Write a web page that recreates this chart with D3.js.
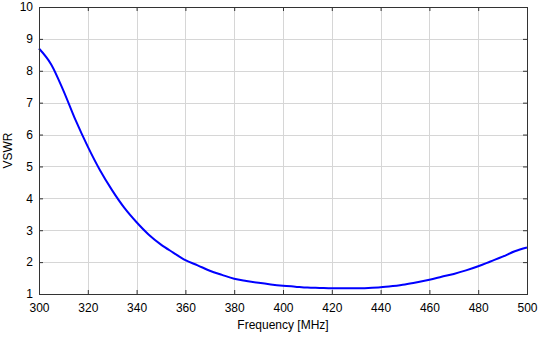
<!DOCTYPE html>
<html>
<head>
<meta charset="utf-8">
<script src="https://cdn.jsdelivr.net/npm/d3@7"></script>
<style>
  html, body { margin: 0; padding: 0; background: #fff; }
  svg { display: block; font-family: "Liberation Sans", Arial, sans-serif; }
</style>
</head>
<body>
<svg id="chart" width="540" height="340"></svg>
<script>
// Measured VSWR of the antenna versus frequency
const freqMHz = [300,305,310,315,320,325,330,335,340,345,350,355,360,365,370,375,380,385,390,395,
                 400,405,410,415,420,425,430,435,440,445,450,455,460,465,470,475,480,485,490,495,500];
const vswr    = [8.70,8.20,7.38,6.45,5.62,4.88,4.25,3.70,3.25,2.86,2.55,2.30,2.06,1.90,1.73,1.60,1.48,1.41,1.35,1.30,
                 1.26,1.23,1.20,1.19,1.18,1.18,1.18,1.19,1.21,1.25,1.30,1.37,1.45,1.54,1.63,1.74,1.87,2.02,2.17,2.34,2.46];
const xTicks = [300,320,340,360,380,400,420,440,460,480,500];
const yTicks = [1,2,3,4,5,6,7,8,9,10];

const svg = d3.select("#chart");
const m = { left: 39, right: 527, top: 7, bottom: 294 };

const x = d3.scaleLinear().domain([300, 500]).range([m.left, m.right]);
const y = d3.scaleLinear().domain([1, 10]).range([m.bottom, m.top]);

// grid
const grid = svg.append("g").attr("stroke", "#d6d6d6").attr("stroke-width", 1);
xTicks.slice(1, -1).forEach(t => {
  grid.append("line").attr("x1", Math.round(x(t)) + 0.5).attr("x2", Math.round(x(t)) + 0.5)
      .attr("y1", m.top).attr("y2", m.bottom);
});
yTicks.slice(1, -1).forEach(t => {
  grid.append("line").attr("y1", Math.round(y(t)) + 0.5).attr("y2", Math.round(y(t)) + 0.5)
      .attr("x1", m.left).attr("x2", m.right);
});

// axes with inward ticks
const tickStyle = g => {
  g.select(".domain").remove();
  g.selectAll(".tick line").attr("stroke", "#333");
  g.selectAll(".tick text").attr("fill", "#000").attr("font-size", 12)
    .attr("font-family", "'Liberation Sans', Arial, sans-serif");
};
svg.append("g").attr("transform", `translate(0,${m.bottom})`)
  .call(d3.axisBottom(x).tickValues(xTicks).tickSizeInner(-4).tickSizeOuter(0).tickPadding(9))
  .call(tickStyle);
svg.append("g").attr("transform", `translate(${m.left},0)`)
  .call(d3.axisLeft(y).tickValues(yTicks).tickSizeInner(-4).tickSizeOuter(0).tickPadding(6))
  .call(tickStyle);
svg.append("g").attr("transform", `translate(0,${m.top})`)
  .call(d3.axisTop(x).tickValues(xTicks).tickSizeInner(-4).tickSizeOuter(0).tickFormat(""))
  .call(tickStyle);
svg.append("g").attr("transform", `translate(${m.right},0)`)
  .call(d3.axisRight(y).tickValues(yTicks).tickSizeInner(-4).tickSizeOuter(0).tickFormat(""))
  .call(tickStyle);

// curve
const line = d3.line().x((d, i) => x(freqMHz[i])).y(d => y(d)).curve(d3.curveMonotoneX);
svg.append("path").datum(vswr).attr("d", line)
  .attr("fill", "none").attr("stroke", "#0000ff").attr("stroke-width", 2);

// frame
svg.append("rect").attr("x", m.left + 0.5).attr("y", m.top + 0.5)
  .attr("width", m.right - m.left).attr("height", m.bottom - m.top)
  .attr("fill", "none").attr("stroke", "#333").attr("stroke-width", 1);

// axis titles
svg.append("text").attr("x", (m.left + m.right) / 2).attr("y", 329)
  .attr("text-anchor", "middle").attr("font-size", 12).text("Frequency [MHz]");
svg.append("text").attr("transform", `translate(12,${(m.top + m.bottom) / 2}) rotate(-90)`)
  .attr("text-anchor", "middle").attr("font-size", 12).text("VSWR");
</script>
</body>
</html>
